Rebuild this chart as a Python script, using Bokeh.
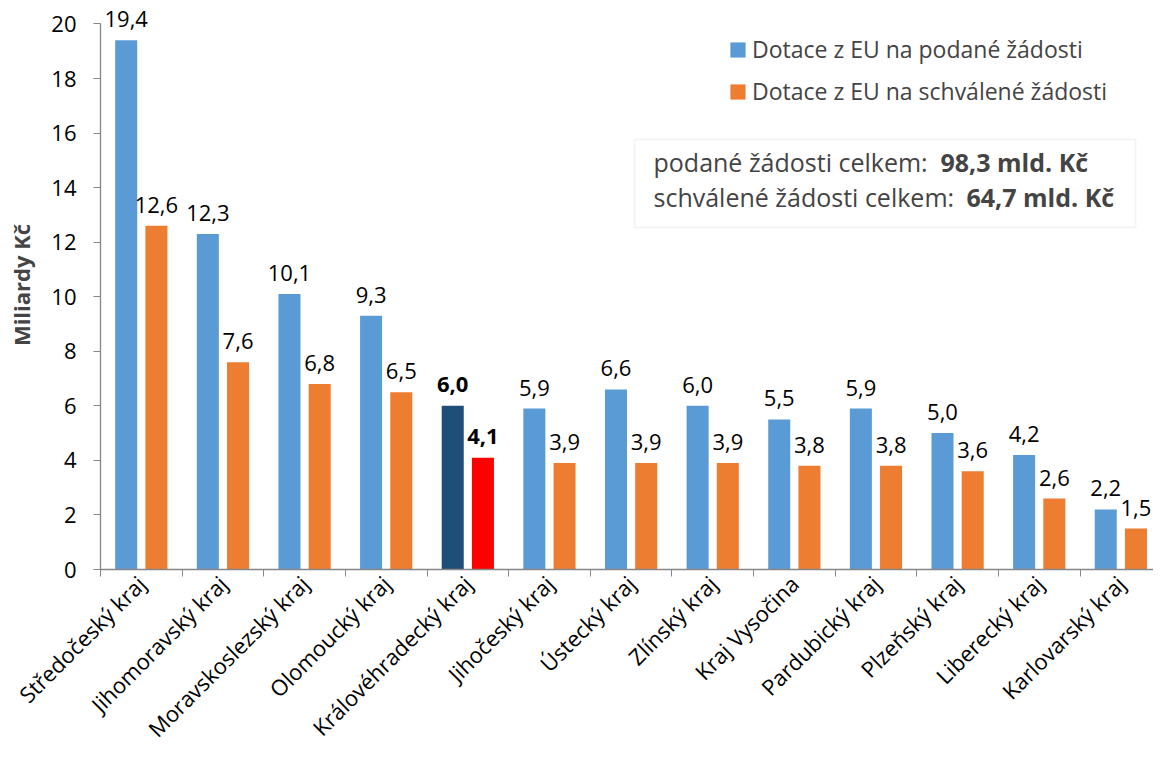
import math
from bokeh.plotting import figure
from bokeh.models import (ColumnDataSource, FixedTicker, Legend, LegendItem, Label,
                          BoxAnnotation, Range1d)
from bokeh.core.properties import value, field
from bokeh.embed import file_html
from bokeh.resources import INLINE

# ---- data ----
regions = ["Středočeský kraj", "Jihomoravský kraj", "Moravskoslezský kraj", "Olomoucký kraj",
           "Královéhradecký kraj", "Jihočeský kraj", "Ústecký kraj", "Zlínský kraj",
           "Kraj Vysočina", "Pardubický kraj", "Plzeňský kraj", "Liberecký kraj",
           "Karlovarský kraj"]
podane = [19.4, 12.3, 10.1, 9.3, 6.0, 5.9, 6.6, 6.0, 5.5, 5.9, 5.0, 4.2, 2.2]
schvalene = [12.6, 7.6, 6.8, 6.5, 4.1, 3.9, 3.9, 3.9, 3.8, 3.8, 3.6, 2.6, 1.5]
highlight = "Královéhradecký kraj"
y_ticks = [0, 2, 4, 6, 8, 10, 12, 14, 16, 18, 20]
y_title = "Miliardy Kč"
series_names = ["Dotace z EU na podané žádosti", "Dotace z EU na schválené žádosti"]
total_labels = ["podané žádosti celkem:", "schválené žádosti celkem:"]
total_values = ["98,3 mld. Kč", "64,7 mld. Kč"]

FONT = "Open Sans"
BLUE, ORANGE, DARK, RED = "#5B9BD5", "#ED7D31", "#1F4E79", "#FF0000"
AXIS = "#868686"

n = len(regions)
centers = [i + 0.5 for i in range(n)]
bar_w = 0.27
off = 0.185


def fmt(v):
    return f"{v:.1f}".replace(".", ",")


src = ColumnDataSource(dict(
    x1=[c - off for c in centers], x2=[c + off for c in centers],
    v1=podane, v2=schvalene,
    c1=[DARK if r == highlight else BLUE for r in regions],
    c2=[RED if r == highlight else ORANGE for r in regions],
    t1=[fmt(v) for v in podane], t2=[fmt(v) for v in schvalene],
    fs=["bold" if r == highlight else "normal" for r in regions],
))

p = figure(width=1153, height=756, x_range=Range1d(0, 12.9), y_range=Range1d(0, 20.86),
           output_backend="svg", toolbar_location=None,
           min_border_left=100, min_border_right=0, min_border_top=0, min_border_bottom=187)
p.outline_line_color = None
p.xgrid.visible = False
p.ygrid.visible = False

r1 = p.vbar(x="x1", top="v1", width=bar_w, fill_color="c1", line_color=None, source=src)
r2 = p.vbar(x="x2", top="v2", width=bar_w, fill_color="c2", line_color=None, source=src)

for xs, ys, ts in (("x1", "v1", "t1"), ("x2", "v2", "t2")):
    p.text(x=xs, y=ys, text=ts, source=src,
           text_align="center", text_baseline="middle", y_offset=-21,
           text_font=value(FONT), text_font_size="22px", text_font_style=field("fs"),
           text_color="black")

# y axis
yax = p.yaxis[0]
yax.ticker = FixedTicker(ticks=y_ticks)
yax.bounds = (0, 20)
yax.axis_label = y_title
yax.axis_label_text_font = FONT
yax.axis_label_text_font_size = "22px"
yax.axis_label_text_font_style = "bold"
yax.axis_label_standoff = 12
yax.major_label_text_font = FONT
yax.major_label_text_font_size = "22px"
yax.major_label_text_color = "black"
yax.major_tick_out = 7
yax.major_tick_in = 0
yax.minor_tick_line_color = None
yax.axis_line_color = AXIS
yax.major_tick_line_color = AXIS
yax.axis_line_width = 1.3
yax.major_label_standoff = 17

# x axis
xax = p.xaxis[0]
xax.ticker = FixedTicker(ticks=centers, minor_ticks=list(range(n + 1)))
xax.major_label_overrides = {c: r for c, r in zip(centers, regions)}
xax.major_tick_line_color = None
xax.major_tick_out = 6
xax.major_tick_in = 0
xax.minor_tick_out = 7
xax.minor_tick_in = 0
xax.minor_tick_line_color = AXIS
xax.axis_line_color = AXIS
xax.axis_line_width = 1.3
xax.major_label_orientation = math.pi / 4
xax.major_label_standoff = 3
xax.major_label_text_font = FONT
xax.major_label_text_font_size = "22px"
xax.major_label_text_color = "black"

legend = Legend(items=[LegendItem(label=series_names[0], renderers=[r1], index=0),
                       LegendItem(label=series_names[1], renderers=[r2], index=0)],
                location=(628, 462), border_line_color=None, background_fill_alpha=0,
                padding=0, margin=0, spacing=10, glyph_width=19, glyph_height=19,
                label_height=30, label_standoff=5, label_text_font=FONT,
                label_text_font_size="23px")
p.add_layout(legend)

box = BoxAnnotation(left=534, right=1035, top=430, bottom=342,
                    left_units="screen", right_units="screen", top_units="screen",
                    bottom_units="screen", fill_color="white", fill_alpha=1,
                    line_color="#D9D9D9", line_width=2)
p.add_layout(box)

for i, (y, bx) in enumerate(((408, 840), (373, 866))):
    p.add_layout(Label(x=553, y=y, x_units="screen", y_units="screen", text=total_labels[i],
                       text_font=FONT, text_font_size="25px", text_baseline="middle"))
    p.add_layout(Label(x=bx, y=y, x_units="screen", y_units="screen", text=total_values[i],
                       text_font=FONT, text_font_size="25px", text_font_style="bold",
                       text_baseline="middle"))

open("out.html", "w").write(file_html(p, INLINE))
